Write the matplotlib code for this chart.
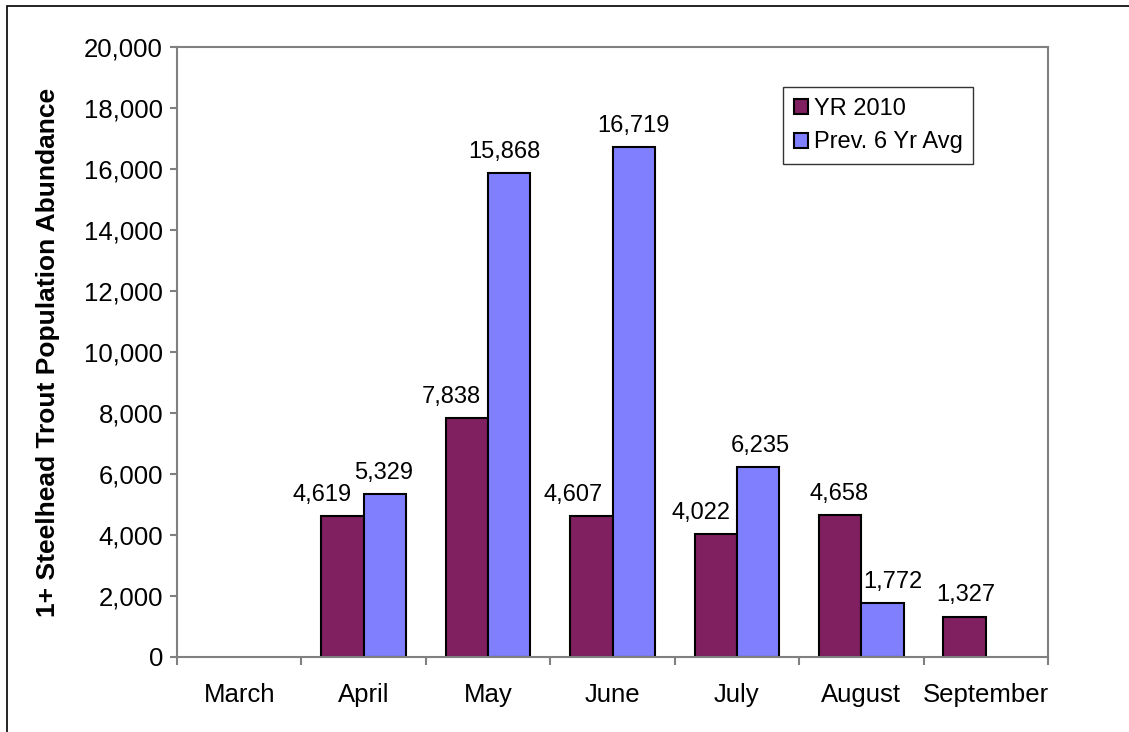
import matplotlib.pyplot as plt
from matplotlib.patches import Rectangle
import numpy as np

months = ['March', 'April', 'May', 'June', 'July', 'August', 'September']
yr_2010 = [np.nan, 4619, 7838, 4607, 4022, 4658, 1327]
prev_avg = [np.nan, 5329, 15868, 16719, 6235, 1772, np.nan]

# horizontal nudges (pixels) of the value labels, as placed in the source chart
yr_label_dx = [0, -20, -16, -18, -15, -1, 1]
prev_label_dx = [0, -1, -5, 0, 2, 10, 0]

plt.rcParams['font.family'] = ['Liberation Sans', 'DejaVu Sans']
TICK_FS = 18.5
LABEL_FS = 17

fig = plt.figure(figsize=(11.29, 7.32), dpi=100)
ax = fig.add_axes([177 / 1129, 1 - 657 / 732, (1048 - 177) / 1129, (657 - 47) / 732])

# outer border (only top/left visible in the source)
fig.patches.append(Rectangle((7 / 1129, -0.1), 1.2, (732 - 6) / 732 + 0.1,
                             transform=fig.transFigure, fill=False,
                             edgecolor='black', linewidth=1.2))

x = np.arange(len(months))
w = 0.34
b1 = ax.bar(x - w / 2, yr_2010, w, color='#802060', edgecolor='black', linewidth=1.5, label='YR 2010')
b2 = ax.bar(x + w / 2, prev_avg, w, color='#8080FF', edgecolor='black', linewidth=1.5, label='Prev. 6 Yr Avg')

for bars, vals, dxs in ((b1, yr_2010, yr_label_dx), (b2, prev_avg, prev_label_dx)):
    for rect, v, dx in zip(bars, vals, dxs):
        if np.isnan(v):
            continue
        ax.annotate(f'{int(v):,}', (rect.get_x() + rect.get_width() / 2, v),
                    xytext=(dx * 0.72, 11), textcoords='offset points',
                    ha='center', va='baseline', fontsize=LABEL_FS)

ax.set_xlim(-0.5, len(months) - 0.5)
ax.set_ylim(0, 20000)
ax.set_yticks(range(0, 20001, 2000))
ax.set_yticklabels([f'{v:,}' for v in range(0, 20001, 2000)], fontsize=TICK_FS)
ax.set_xticks(x)
ax.set_xticklabels(months, fontsize=TICK_FS)
ax.set_xticks(np.arange(-0.5, len(months), 1), minor=True)
ax.tick_params(axis='x', which='major', length=0, pad=19)
ax.tick_params(axis='x', which='minor', length=6, color='#808080', width=1.5)
ax.tick_params(axis='y', length=5, color='#808080', width=1.5, pad=5)
for s in ax.spines.values():
    s.set_color('#808080')
    s.set_linewidth(1.5)

ax.set_ylabel('1+ Steelhead Trout Population Abundance', fontsize=19, fontweight='bold', labelpad=17)

leg = ax.legend(loc='upper left', bbox_to_anchor=((783 - 177) / 871, 1 - (87 - 47) / 610),
                fontsize=LABEL_FS, frameon=True, fancybox=False, edgecolor='black',
                handlelength=0.6, handleheight=0.6, handletextpad=0.25,
                borderpad=0.45, labelspacing=0.5, borderaxespad=0)
leg.get_frame().set_linewidth(1.0)

fig.savefig('out.png', dpi=100)
